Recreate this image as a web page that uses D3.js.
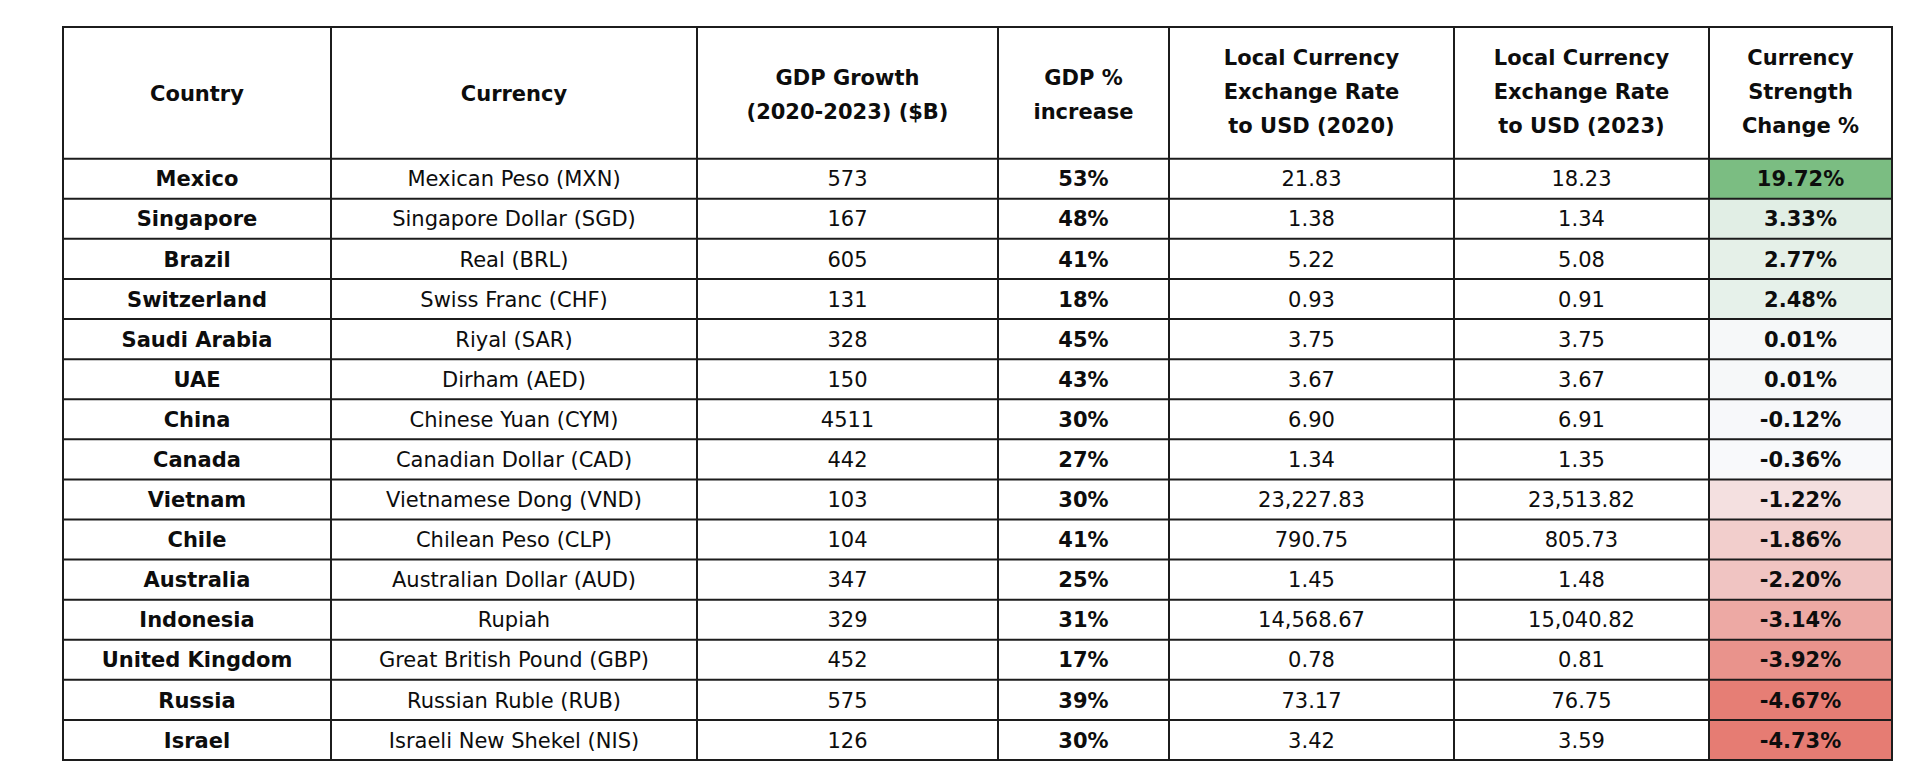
<!DOCTYPE html>
<html>
<head>
<meta charset="utf-8">
<script src="https://cdn.jsdelivr.net/npm/d3@7"></script>
<style>
  html, body { margin: 0; padding: 0; background: #ffffff; }
  svg { display: block; }
  text { font-family: "DejaVu Sans", Verdana, sans-serif; fill: #0d0d0d; }
</style>
</head>
<body>
<svg id="chart" width="1920" height="774"></svg>
<script>
// ---------- data ----------
const headers = [
  ["Country"],
  ["Currency"],
  ["GDP Growth", "(2020-2023) ($B)"],
  ["GDP %", "increase"],
  ["Local Currency", "Exchange Rate", "to USD (2020)"],
  ["Local Currency", "Exchange Rate", "to USD (2023)"],
  ["Currency", "Strength", "Change %"]
];
const countries = ["Mexico", "Singapore", "Brazil", "Switzerland", "Saudi Arabia", "UAE", "China", "Canada", "Vietnam", "Chile", "Australia", "Indonesia", "United Kingdom", "Russia", "Israel"];
const currencies = ["Mexican Peso (MXN)", "Singapore Dollar (SGD)", "Real (BRL)", "Swiss Franc (CHF)", "Riyal (SAR)", "Dirham (AED)", "Chinese Yuan (CYM)", "Canadian Dollar (CAD)", "Vietnamese Dong (VND)", "Chilean Peso (CLP)", "Australian Dollar (AUD)", "Rupiah", "Great British Pound (GBP)", "Russian Ruble (RUB)", "Israeli New Shekel (NIS)"];
const gdpGrowth = [573, 167, 605, 131, 328, 150, 4511, 442, 103, 104, 347, 329, 452, 575, 126];
const gdpPctIncrease = [53, 48, 41, 18, 45, 43, 30, 27, 30, 41, 25, 31, 17, 39, 30];
const rate2020 = [21.83, 1.38, 5.22, 0.93, 3.75, 3.67, 6.90, 1.34, 23227.83, 790.75, 1.45, 14568.67, 0.78, 73.17, 3.42];
const rate2023 = [18.23, 1.34, 5.08, 0.91, 3.75, 3.67, 6.91, 1.35, 23513.82, 805.73, 1.48, 15040.82, 0.81, 76.75, 3.59];
const strengthChange = [19.72, 3.33, 2.77, 2.48, 0.01, 0.01, -0.12, -0.36, -1.22, -1.86, -2.20, -3.14, -3.92, -4.67, -4.73];

// ---------- layout ----------
const colEdges = [63, 331, 697, 998, 1169, 1454, 1709, 1892];
const tableTop = 27, headerBottom = 158.7, tableBottom = 760;
const fontSize = 21, capH = fontSize * 0.729;
const headerLineGap = 34;

const svg = d3.select("#chart");

const y = d3.scaleBand().domain(countries).range([headerBottom, tableBottom]).padding(0);
const colCenter = i => (colEdges[i] + colEdges[i + 1]) / 2;

const hyphen = s => s.replace(/\u2212/g, "-");
const fmtRate = d => hyphen(d3.format(",.2f")(d));
const fmtChange = d => hyphen(d3.format(".2f")(d)) + "%";

const color = d3.scaleLinear()
  .domain([d3.min(strengthChange), d3.median(strengthChange), d3.max(strengthChange)])
  .range(["#e67c73", "#f8f9fb", "#7bbd82"]);

// cell fills for strength column
svg.append("g").selectAll("rect")
  .data(countries)
  .join("rect")
  .attr("x", colEdges[6])
  .attr("y", d => y(d))
  .attr("width", colEdges[7] - colEdges[6])
  .attr("height", y.bandwidth())
  .attr("fill", (d, i) => color(strengthChange[i]));

// header text
const hg = svg.append("g");
const headerMid = (tableTop + headerBottom) / 2;
headers.forEach((lines, ci) => {
  const n = lines.length;
  const offset = n === 3 ? -1.5 : (n === 2 ? 1 : 0.5);
  lines.forEach((line, li) => {
    const cy = headerMid + offset + (li - (n - 1) / 2) * headerLineGap;
    hg.append("text")
      .attr("x", colCenter(ci))
      .attr("y", cy + capH / 2)
      .attr("text-anchor", "middle")
      .attr("font-size", fontSize)
      .attr("font-weight", "bold")
      .text(line);
  });
});

// body text
const columns = [
  { vals: countries, fmt: d => d, bold: true },
  { vals: currencies, fmt: d => d, bold: false },
  { vals: gdpGrowth, fmt: d => String(d), bold: false },
  { vals: gdpPctIncrease, fmt: d => d + "%", bold: true },
  { vals: rate2020, fmt: fmtRate, bold: false },
  { vals: rate2023, fmt: fmtRate, bold: false },
  { vals: strengthChange, fmt: fmtChange, bold: true }
];
const bg = svg.append("g");
columns.forEach((col, ci) => {
  bg.append("g").selectAll("text")
    .data(col.vals)
    .join("text")
    .attr("x", colCenter(ci))
    .attr("y", (d, i) => y(countries[i]) + y.bandwidth() / 2 + capH / 2)
    .attr("text-anchor", "middle")
    .attr("font-size", fontSize)
    .attr("font-weight", col.bold ? "bold" : "normal")
    .text(col.fmt);
});

// grid lines
const rowEdges = [tableTop, headerBottom].concat(countries.map(c => y(c) + y.bandwidth()));
const lg = svg.append("g").attr("stroke", "#1c1c1c").attr("stroke-width", 2);
lg.selectAll("line.h")
  .data(rowEdges)
  .join("line")
  .attr("class", "h")
  .attr("x1", colEdges[0]).attr("x2", colEdges[colEdges.length - 1])
  .attr("y1", d => d).attr("y2", d => d);
lg.selectAll("line.v")
  .data(colEdges)
  .join("line")
  .attr("class", "v")
  .attr("x1", d => d).attr("x2", d => d)
  .attr("y1", tableTop - 1).attr("y2", tableBottom + 1);
</script>
</body>
</html>
